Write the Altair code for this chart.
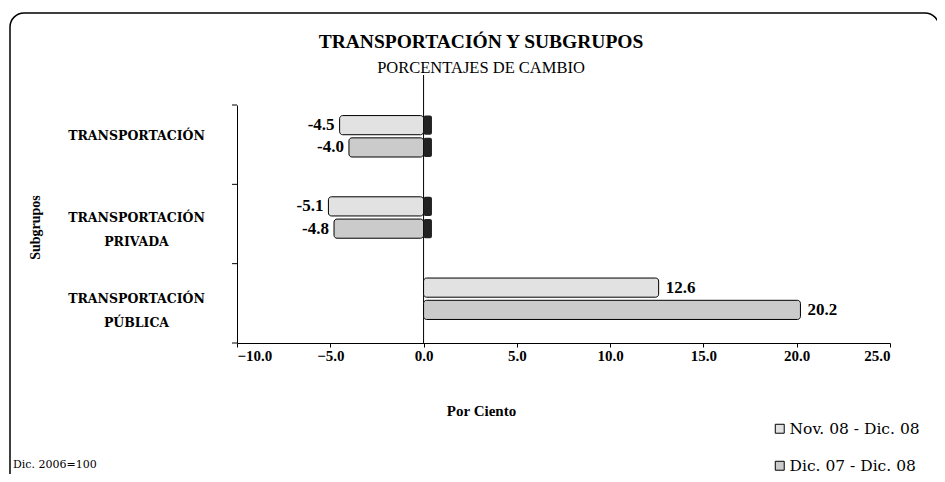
import altair as alt
import pandas as pd

categories = ["TRANSPORTACIÓN", "TRANSPORTACIÓN PRIVADA", "TRANSPORTACIÓN PÚBLICA"]
series = ["Nov. 08 - Dic. 08", "Dic. 07 - Dic. 08"]
nov_values = [-4.5, -5.1, 12.6]
dic_values = [-4.0, -4.8, 20.2]
x_ticks = [-10, -5, 0, 5, 10, 15, 20, 25]
band_edges = [0, 1, 2, 3]
title_text = "TRANSPORTACIÓN Y SUBGRUPOS"
subtitle_text = "PORCENTAJES DE CAMBIO"
footnote_text = "Dic. 2006=100"

rows = []
for c, v in zip(categories, nov_values):
    rows.append({"cat": c, "serie": series[0], "val": v})
for c, v in zip(categories, dic_values):
    rows.append({"cat": c, "serie": series[1], "val": v})
df = pd.DataFrame(rows)
df["lab"] = df["val"].map(lambda v: f"{v:.1f}")

SERIF = "Liberation Serif"
WIDE = "DejaVu Serif"
W, H = 653, 238

xscale = alt.Scale(domain=[-10, 25], nice=False, zero=False)
yscale = alt.Scale(domain=categories, paddingInner=0.49, paddingOuter=0.21, align=0.31)
yoff = alt.YOffset("serie:N", scale=alt.Scale(domain=series, paddingInner=0.14))

x_enc = alt.X("val:Q", scale=xscale, title="Por Ciento",
              axis=alt.Axis(values=x_ticks, format=".1f", grid=False,
                            labelFont=SERIF, labelFontWeight="bold", labelFontSize=15,
                            labelColor="black", domainColor="black", tickColor="black",
                            tickSize=4, labelPadding=1,
                            titleFont=SERIF, titleFontWeight="bold", titleFontSize=15,
                            titleColor="black", titleX=244, titleY=67, titleBaseline="middle",
                            titleAnchor="start", titleAlign="center"))
y_enc = alt.Y("cat:N", scale=yscale, title="Subgrupos",
              axis=alt.Axis(ticks=False, labelAlign="center", labelBaseline="middle",
                            labelExpr="datum.label == 'TRANSPORTACIÓN' ? datum.label : split(datum.label, ' ')",
                            labelFont=WIDE, labelFontWeight="bold", labelFontSize=12.5,
                            labelColor="black", labelPadding=101,
                            domainColor="black", labelLineHeight=24,
                            titleFont=SERIF, titleFontWeight="bold", titleFontSize=14,
                            titleColor="black", titleX=-202, titleY=122,
                            titleAnchor="start", titleAlign="center", titleBaseline="middle"))

color = alt.Color("serie:N", scale=alt.Scale(domain=series, range=["#e2e2e2", "#cbcbcb"]),
                  legend=alt.Legend(title=None, orient="none", legendX=535, legendY=316,
                                    symbolType="square", symbolSize=80, symbolStrokeColor="black",
                                    symbolStrokeWidth=1, rowPadding=20, labelOffset=2,
                                    labelFont=WIDE, labelFontSize=15.5, labelColor="black"))

base = alt.Chart(df)

bars = base.mark_bar(stroke="black", strokeWidth=1, cornerRadius=3).encode(
    x=x_enc, x2=alt.X2(datum=0), y=y_enc, yOffset=yoff, color=color,
)

caps = base.transform_filter("datum.val < 0").transform_calculate(cap="0.45").mark_bar(
    color="#222222", cornerRadius=2).encode(
    x=alt.X("cap:Q", scale=xscale), x2=alt.X2(datum=0), y=alt.Y("cat:N", scale=yscale),
    yOffset=yoff,
)

labels_neg = base.transform_filter("datum.val < 0").mark_text(
    font=SERIF, fontWeight="bold", fontSize=17, color="black", align="right", dx=-5).encode(
    x=alt.X("val:Q", scale=xscale), y=alt.Y("cat:N", scale=yscale), yOffset=yoff, text="lab:N")

labels_pos = base.transform_filter("datum.val >= 0").mark_text(
    font=SERIF, fontWeight="bold", fontSize=17, color="black", align="left", dx=7).encode(
    x=alt.X("val:Q", scale=xscale), y=alt.Y("cat:N", scale=yscale), yOffset=yoff, text="lab:N")

main = alt.layer(bars, caps, labels_neg, labels_pos)

yticks = alt.Chart(pd.DataFrame({"e": band_edges})).mark_rule(color="black").encode(
    y=alt.Y("e:Q", scale=alt.Scale(domain=[0, 3], nice=False, zero=False), axis=None),
    x=alt.value(-5), x2=alt.value(0))

zero_rule = alt.Chart(pd.DataFrame({"z": [0]})).mark_rule(color="black", strokeWidth=1).encode(
    x=alt.X("z:Q", scale=xscale), y=alt.value(-30), y2=alt.value(H))

frame = alt.Chart(pd.DataFrame({"f": [0]})).mark_rect(
    fill=None, stroke="black", strokeWidth=1.5, cornerRadius=14).encode(
    x=alt.value(-227), x2=alt.value(702), y=alt.value(-92), y2=alt.value(400))

titles = alt.Chart(pd.DataFrame({"t": [title_text]})).mark_text(
    font=SERIF, fontSize=19.5, fontWeight="bold", color="black", align="center").encode(
    text="t:N", x=alt.value(244), y=alt.value(-63))

subtitles = alt.Chart(pd.DataFrame({"t": [subtitle_text]})).mark_text(
    font=SERIF, fontSize=16.5, color="black", align="center").encode(
    text="t:N", x=alt.value(244), y=alt.value(-37))

footnote = alt.Chart(pd.DataFrame({"t": [footnote_text]})).mark_text(
    font=WIDE, fontSize=11, align="left", color="black").encode(
    text="t:N", x=alt.value(-224), y=alt.value(360))

chart = alt.layer(frame, zero_rule, main, yticks, titles, subtitles, footnote).resolve_scale(
    y="independent"
).properties(
    width=W, height=H,
    autosize=alt.AutoSizeParams(type="none"),
    padding={"left": 229, "top": 97, "right": 47, "bottom": 131},
).configure(background="white", view=alt.ViewConfig(stroke=None))

chart.save("out.html", embed_options={"renderer": "svg", "actions": False})
